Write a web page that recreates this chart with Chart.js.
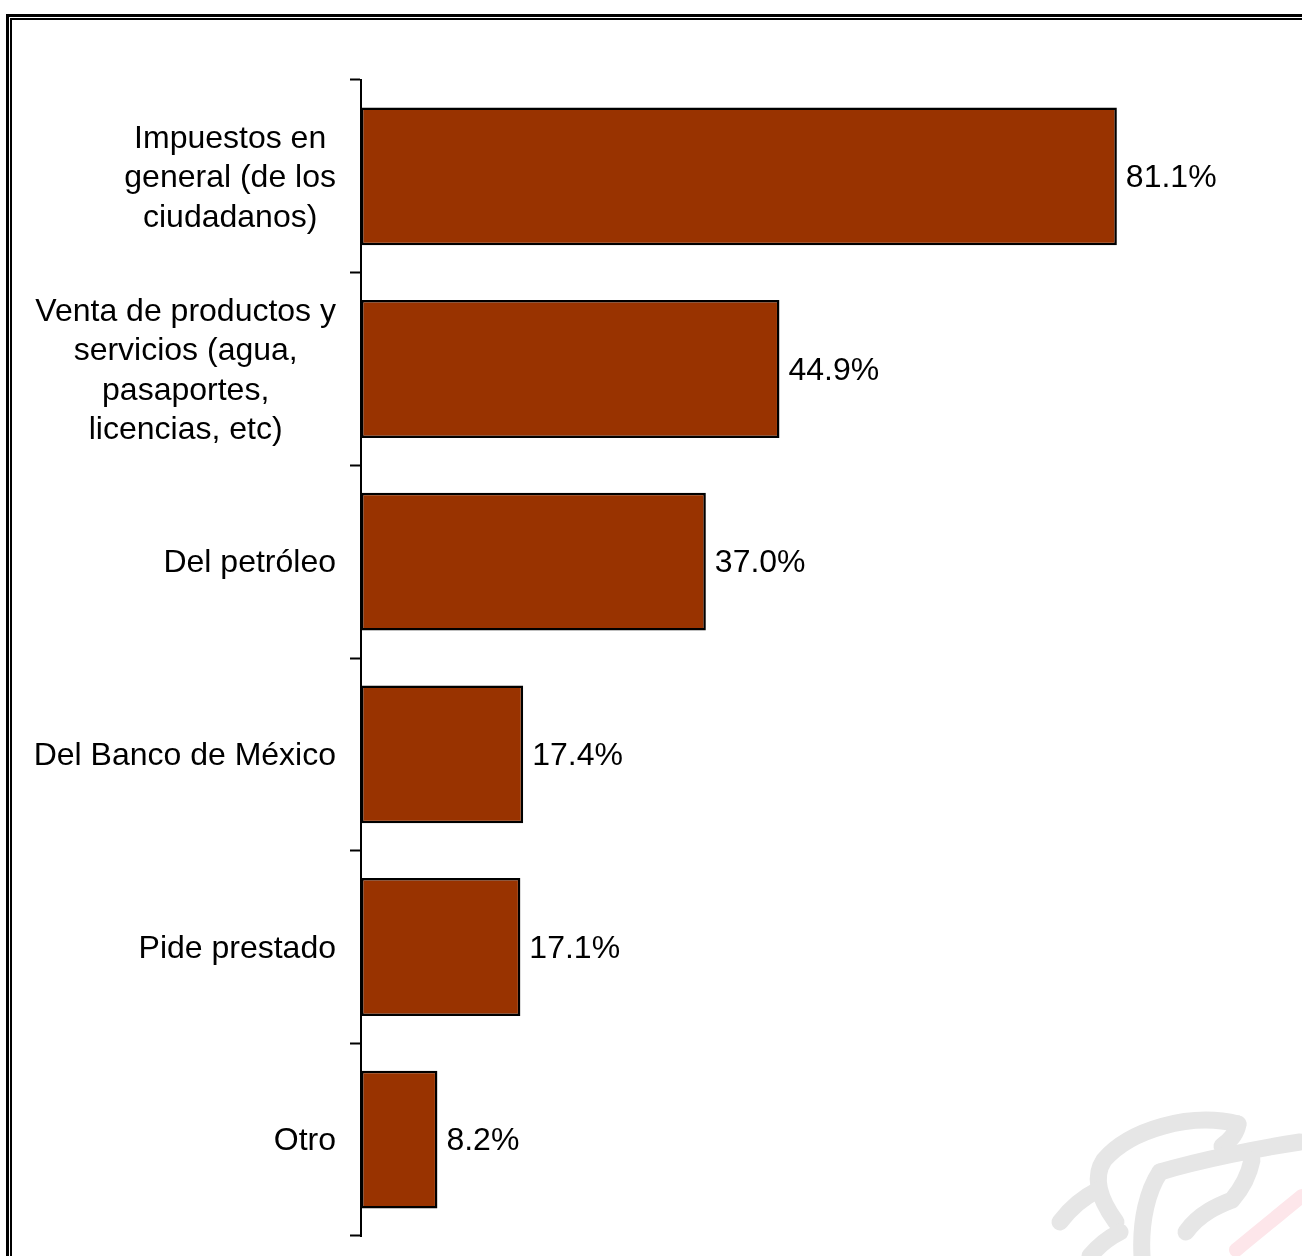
<!DOCTYPE html>
<html>
<head>
<meta charset="utf-8">
<script src="https://cdn.jsdelivr.net/npm/chart.js@4/dist/chart.umd.min.js"></script>
<style>
  html, body { margin: 0; padding: 0; background: #fff; overflow: hidden; }
  #page { position: relative; width: 1302px; height: 1256px; overflow: hidden; }
  #outer { position: absolute; left: 6px; top: 14px; width: 1320px; height: 1280px; border: 3px solid #000; box-sizing: border-box; }
  #inner { position: absolute; left: 1px; top: 1px; right: 1px; bottom: 1px; border: 2px solid #000; }
  #wm { position: absolute; left: 0; top: 0; }
  #c { position: absolute; left: 0; top: 0; }
</style>
</head>
<body>
<div id="page">
  <div id="outer"><div id="inner"></div></div>
  <svg id="wm" width="1302" height="1256" viewBox="0 0 1302 1256">
    <g fill="none" stroke="#e6e6e6" stroke-linecap="round" stroke-linejoin="round" stroke-width="17">
      <path d="M1238 1124 C1190 1112 1130 1130 1104 1160 C1092 1178 1100 1200 1116 1222"/>
      <path d="M1238 1124 C1236 1136 1228 1142 1222 1146"/>
      <path d="M1060 1222 C1072 1206 1086 1196 1098 1190"/>
      <path d="M1090 1256 C1100 1244 1112 1236 1120 1232"/>
      <path d="M1160 1172 C1200 1160 1260 1148 1300 1142"/>
      <path d="M1160 1172 C1148 1190 1140 1220 1142 1256"/>
      <path d="M1186 1232 C1200 1212 1222 1204 1232 1200 C1244 1186 1250 1170 1252 1160"/>
    </g>
    <path d="M1236 1250 C1260 1230 1285 1210 1302 1196" fill="none" stroke="#fde6ea" stroke-width="14" stroke-linecap="round"/>
  </svg>
  <canvas id="c" width="1302" height="1256"></canvas>
</div>
<script>
const categories = [
  ["Impuestos en", "general (de los", "ciudadanos)"],
  ["Venta de productos y", "servicios (agua,", "pasaportes,", "licencias, etc)"],
  ["Del petróleo"],
  ["Del Banco de México"],
  ["Pide prestado"],
  ["Otro"]
];
const values = [81.1, 44.9, 37.0, 17.4, 17.1, 8.2];
const axisMin = 0;
const axisMax = 100;

const FONT = '"Liberation Sans", Arial, Helvetica, sans-serif';
const FONT_SIZE = 32;
const LINE_H = 39.5;

const labelPlugin = {
  id: 'labelPlugin',
  afterDraw(chart) {
    const ctx = chart.ctx;
    const y = chart.scales.y;
    const meta = chart.getDatasetMeta(0);
    ctx.save();
    ctx.fillStyle = '#000';
    ctx.font = FONT_SIZE + 'px ' + FONT;
    ctx.textBaseline = 'middle';
    ctx.textAlign = 'left';
    meta.data.forEach((bar, i) => {
      const v = chart.data.datasets[0].data[i];
      ctx.fillText(v.toFixed(1) + '%', bar.x + 9, bar.y + 2);
    });
    const rightX = chart.chartArea.left - 25;
    chart.data.labels.forEach((lab, i) => {
      const lines = Array.isArray(lab) ? lab : [lab];
      const maxW = Math.max(...lines.map(l => ctx.measureText(l).width));
      const cx = rightX - maxW / 2;
      const cy = y.getPixelForValue(i) + 2;
      const y0 = cy - (lines.length - 1) * LINE_H / 2;
      ctx.textAlign = 'center';
      lines.forEach((l, k) => ctx.fillText(l, cx, y0 + k * LINE_H));
    });
    ctx.restore();
  }
};

new Chart(document.getElementById('c'), {
  type: 'bar',
  data: {
    labels: categories,
    datasets: [{
      data: values,
      backgroundColor: '#993300',
      borderColor: '#000000',
      borderWidth: 2.5,
      borderSkipped: false,
      barPercentage: 0.715,
      categoryPercentage: 1.0
    }]
  },
  options: {
    indexAxis: 'y',
    responsive: false,
    animation: false,
    devicePixelRatio: 1,
    layout: { padding: { left: 350, right: 9, top: 80, bottom: 20 } },
    plugins: { legend: { display: false }, tooltip: { enabled: false } },
    scales: {
      x: { display: false, min: axisMin, max: axisMax },
      y: {
        offset: true,
        border: { display: true, color: '#000', width: 2 },
        grid: { offset: true, drawOnChartArea: false, drawTicks: true, tickLength: 11, tickWidth: 2, tickColor: '#000', color: '#000' },
        ticks: { display: false },
        afterFit(scale) { scale.width = 11; }
      }
    }
  },
  plugins: [labelPlugin]
});
</script>
</body>
</html>
